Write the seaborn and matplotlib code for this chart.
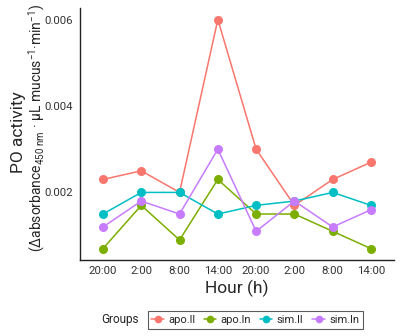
import numpy as np
import pandas as pd
import seaborn as sns
import matplotlib.pyplot as plt

hours = ['20:00', '2:00', '8:00', '14:00', '20:00', '2:00', '8:00', '14:00']
groups = ['apo.ll', 'apo.ln', 'sim.ll', 'sim.ln']
apo_ll = [0.0023, 0.0025, 0.0020, 0.0060, 0.0030, 0.0017, 0.0023, 0.0027]
apo_ln = [0.0007, 0.0017, 0.0009, 0.0023, 0.0015, 0.0015, 0.0011, 0.0007]
sim_ll = [0.0015, 0.0020, 0.0020, 0.0015, 0.0017, 0.0018, 0.0020, 0.0017]
sim_ln = [0.0012, 0.0018, 0.0015, 0.0030, 0.0011, 0.0018, 0.0012, 0.0016]
colors = ['#F8766D', '#7CAE00', '#00BFC4', '#C77CFF']

rows = []
for g, vals in zip(groups, [apo_ll, apo_ln, sim_ll, sim_ln]):
    for i, v in enumerate(vals):
        rows.append({'pos': i, 'value': v, 'Groups': g})
df = pd.DataFrame(rows)

sns.set_style('white')
plt.rcParams['font.family'] = ['Roboto', 'DejaVu Sans']
plt.rcParams['mathtext.fontset'] = 'custom'
plt.rcParams['mathtext.rm'] = 'Roboto'
plt.rcParams['mathtext.it'] = 'Roboto'

fig = plt.figure(figsize=(4.02, 3.36), dpi=100)
ax = fig.add_axes([0.199, 0.226, 0.781, 0.75])
sns.lineplot(data=df, x='pos', y='value', hue='Groups', palette=colors,
             marker='o', markersize=6.5, markeredgewidth=0, linewidth=1.1,
             sort=False, estimator=None, ax=ax, legend=False)

ax.set_xlim(-0.6, 7.6)
ax.set_ylim(0.000435, 0.006265)
ax.set_xticks(range(len(hours)))
ax.set_xticklabels(hours)
ax.set_yticks([0.002, 0.004, 0.006])
ax.set_yticklabels(['0.002', '0.004', '0.006'])
ax.tick_params(axis='both', labelsize=8.2, length=3, width=0.8,
               color='#333333', labelcolor='#333333', pad=2, direction='out')
ax.tick_params(axis='x', length=0, pad=4)
for s in ['top', 'right']:
    ax.spines[s].set_visible(False)
for s in ['left', 'bottom']:
    ax.spines[s].set_color('#222222')
    ax.spines[s].set_linewidth(1.0)

ax.set_xlabel('Hour (h)', fontsize=12.5, labelpad=3)
ax.set_ylabel('')
fig.text(0.046, 0.607, 'PO activity', fontsize=12.5, rotation=90,
         ha='center', va='center')
fig.text(0.09, 0.619,
         '(Δabsorbance$_{\\mathrm{450\\ nm}}$ · µL mucus$^{-1}$·min$^{-1}$)',
         fontsize=10, rotation=90, ha='center', va='center')

handles = [plt.Line2D([], [], color=c, marker='o', markersize=5.5, markeredgewidth=0,
                      linewidth=1.1) for c in colors]
leg = fig.legend(handles, groups, loc='center', bbox_to_anchor=(0.635, 0.048), ncol=4,
                 fontsize=8, frameon=True, fancybox=False, handlelength=1.1,
                 handletextpad=0.4, columnspacing=0.8, borderpad=0.35)
leg.get_frame().set_edgecolor('#333333')
leg.get_frame().set_linewidth(0.8)
fig.text(0.298, 0.048, 'Groups', fontsize=8.5, ha='center', va='center')

fig.savefig('out.png', dpi=100)
